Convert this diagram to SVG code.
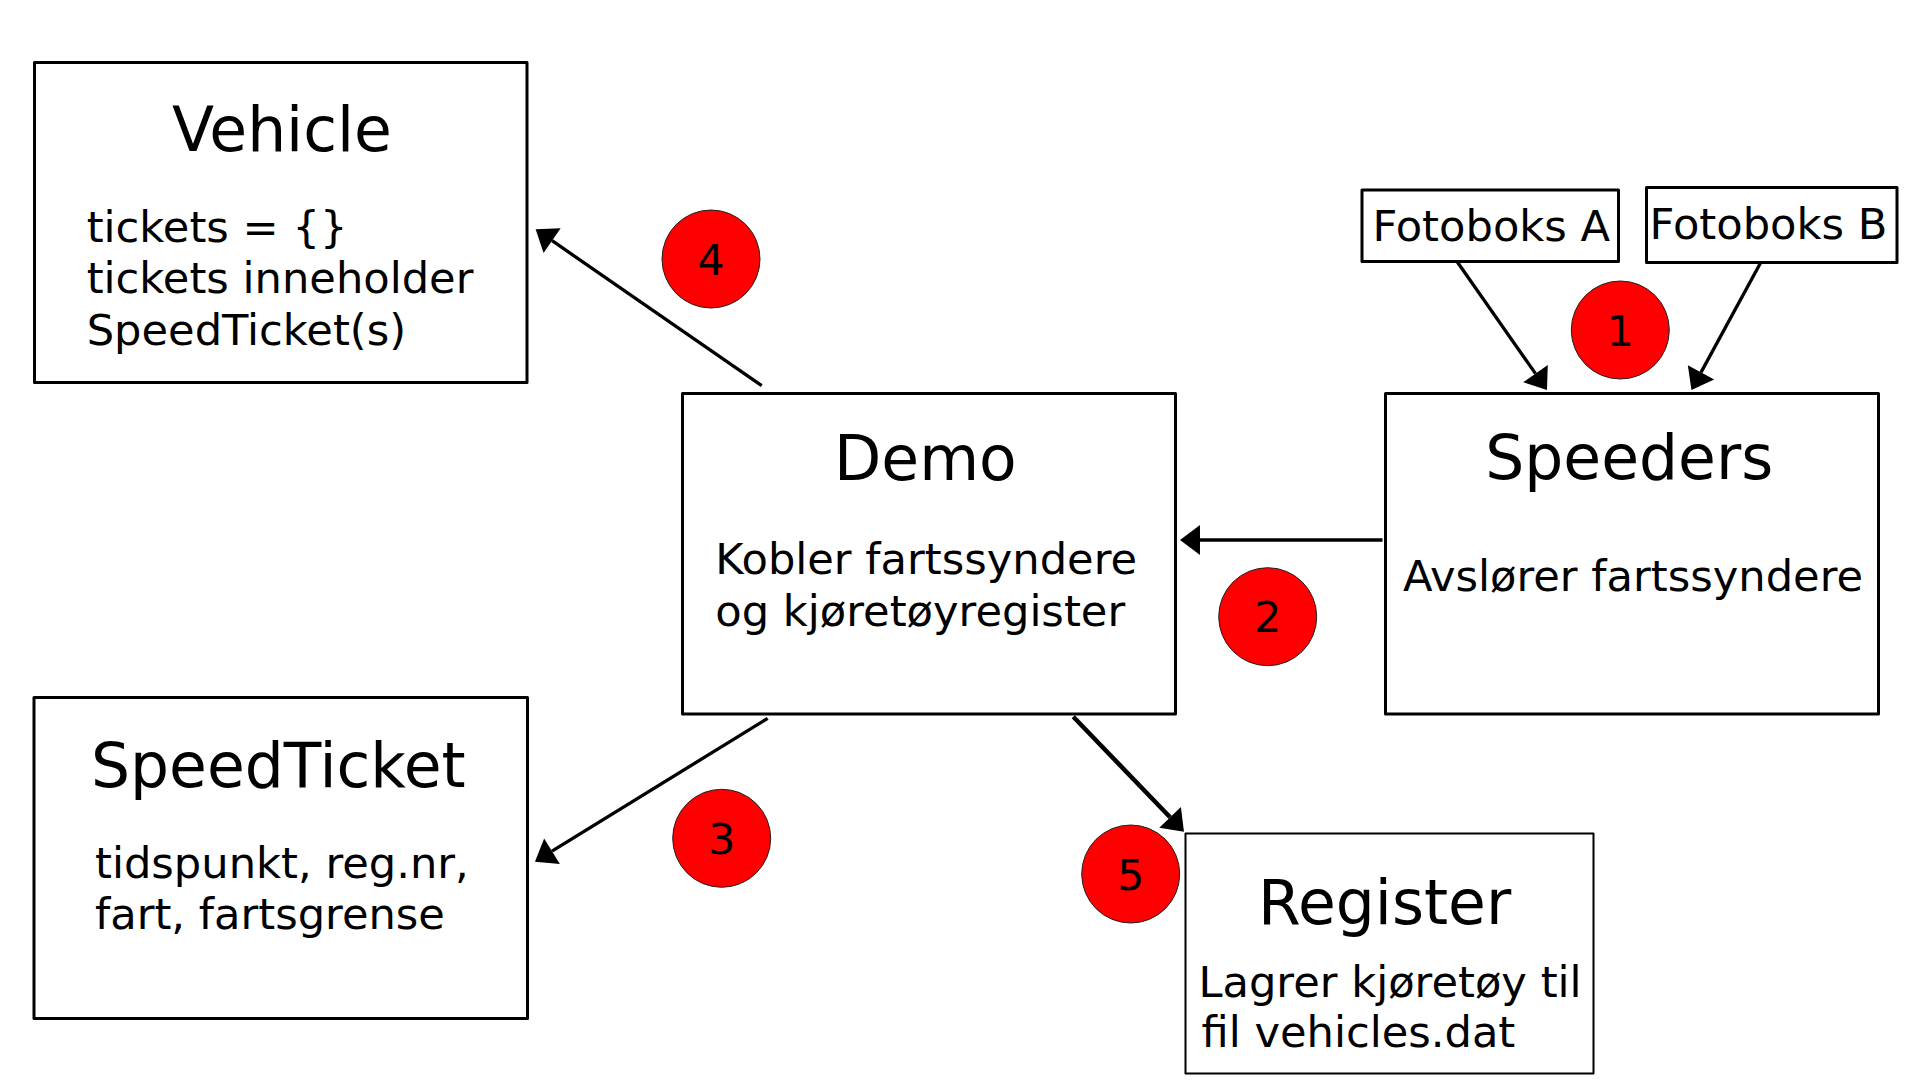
<svg xmlns="http://www.w3.org/2000/svg" width="1920" height="1080" viewBox="0 0 1920 1080">
<style>
.box{fill:#fff;stroke:#000;stroke-width:3;stroke-linejoin:round}
.thin{stroke-width:2}
.t{font-family:"DejaVu Sans","Liberation Sans",sans-serif;fill:#000}
.title{font-size:61.5px}
.body{font-size:43.2px}
.num{font-size:42.5px;text-anchor:middle}
.badge{fill:#ff0000;stroke:#222;stroke-width:1}
.conn{fill:none;stroke:#000;stroke-width:3.3;marker-end:url(#ah)}
</style>
<defs>
<marker id="ah" markerUnits="userSpaceOnUse" markerWidth="20" markerHeight="30" refX="0" refY="15" orient="auto" overflow="visible">
<path d="M0,0 L20,15 L0,30 z" fill="#000"/>
</marker>
</defs>
<rect width="1920" height="1080" fill="#fff"/>
<g id="connectors">
<path class="conn" d="M1457,261.5 L1535.5,373.6"/>
<path class="conn" d="M1760.6,262.7 L1701,372.4"/>
<path class="conn" d="M1382.5,540 L1200,540"/>
<path class="conn" d="M767.7,718.3 L552,851.2"/>
<path class="conn" d="M761.7,385.7 L552.1,240.7"/>
<path class="conn" d="M1073.3,716.7 L1170.1,817.3" style="stroke-width:4.5"/>
</g>
<g id="vehicle">
<rect class="box" x="34.5" y="62.5" width="492.5" height="320"/>
<text class="t title" x="172" y="150.7">Vehicle</text>
<text class="t body" x="86.7" y="241.7">tickets = {}</text>
<text class="t body" x="86.7" y="293.3">tickets inneholder</text>
<text class="t body" x="86.7" y="345">SpeedTicket(s)</text>
</g>
<g id="speedticket">
<rect class="box" x="34" y="697.5" width="493.5" height="321"/>
<text class="t title" x="91" y="787.3">SpeedTicket</text>
<text class="t body" x="95" y="878.3">tidspunkt, reg.nr,</text>
<text class="t body" x="95" y="929">fart, fartsgrense</text>
</g>
<g id="demo">
<rect class="box" x="682.5" y="393.5" width="493" height="320.5"/>
<text class="t title" x="834" y="479.5">Demo</text>
<text class="t body" x="715.3" y="574">Kobler fartssyndere</text>
<text class="t body" x="715.3" y="625.7">og kjøretøyregister</text>
</g>
<g id="speeders">
<rect class="box" x="1385.5" y="393.5" width="493" height="320.5"/>
<text class="t title" x="1485.3" y="479">Speeders</text>
<text class="t body" x="1403" y="591">Avslører fartssyndere</text>
</g>
<g id="register">
<rect class="box thin" x="1185.5" y="833.5" width="408" height="240"/>
<text class="t title" x="1258" y="924">Register</text>
<text class="t body" x="1198.4" y="996.7">Lagrer kjøretøy til</text>
<text class="t body" x="1201.5" y="1046.7">fil vehicles.dat</text>
</g>
<g id="fotoboks-a">
<rect class="box" x="1362" y="190" width="256.5" height="71.5"/>
<text class="t body" x="1372.4" y="241">Fotoboks A</text>
</g>
<g id="fotoboks-b">
<rect class="box" x="1646.5" y="187.5" width="250.5" height="75"/>
<text class="t body" x="1649.6" y="239">Fotoboks B</text>
</g>
<g id="badge-1">
<circle class="badge" cx="1620.3" cy="330" r="49"/>
<text class="t num" x="1620.3" y="345.5">1</text>
</g>
<g id="badge-2">
<circle class="badge" cx="1267.7" cy="616.7" r="49"/>
<text class="t num" x="1267.7" y="632.2">2</text>
</g>
<g id="badge-3">
<circle class="badge" cx="721.7" cy="838.3" r="49"/>
<text class="t num" x="721.7" y="853.8">3</text>
</g>
<g id="badge-4">
<circle class="badge" cx="711" cy="259" r="49"/>
<text class="t num" x="711" y="274.5">4</text>
</g>
<g id="badge-5">
<circle class="badge" cx="1130.7" cy="874" r="49"/>
<text class="t num" x="1130.7" y="889.5">5</text>
</g>
</svg>
